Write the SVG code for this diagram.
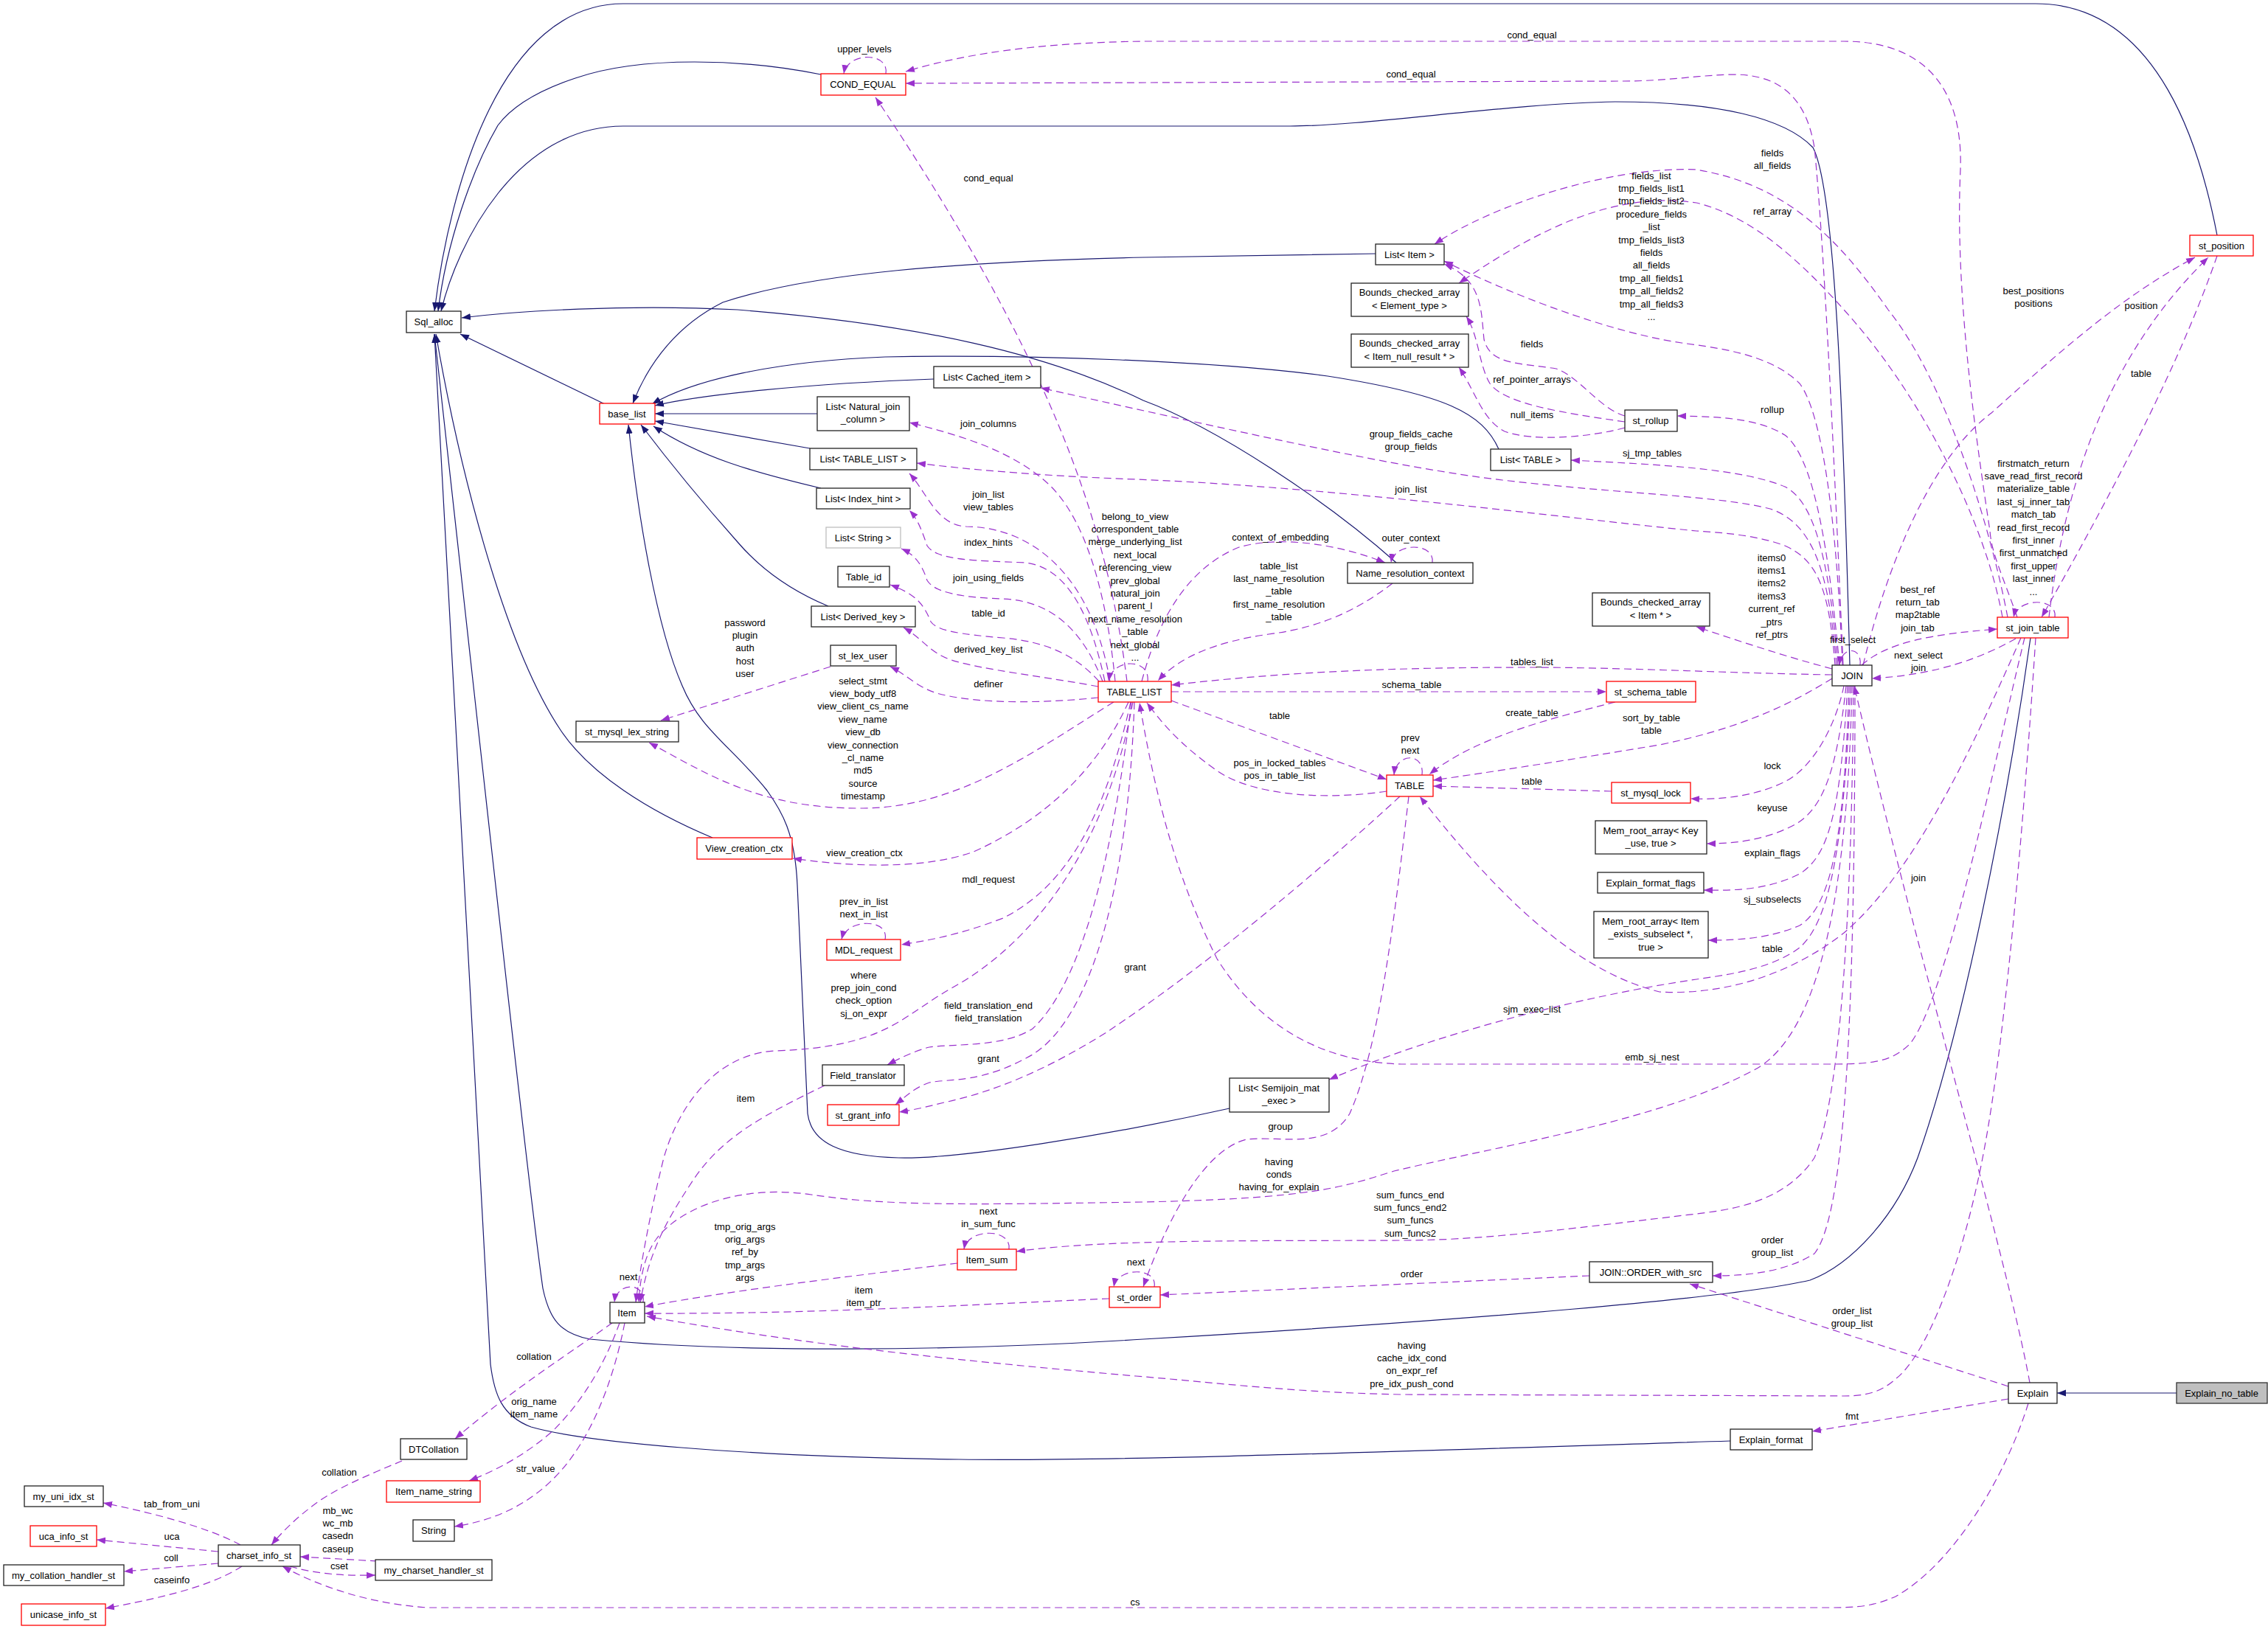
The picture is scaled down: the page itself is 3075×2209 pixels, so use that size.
<svg xmlns="http://www.w3.org/2000/svg" width="3075" height="2209" viewBox="0 0 3075 2209">
<style>
text{font-family:"Liberation Sans",Arial,Helvetica,sans-serif;font-size:13px;fill:#000}
.t,.l{text-anchor:middle}
rect{fill:#fff;stroke:#222;stroke-width:1.3}
rect.r{stroke:#f00}
rect.g{stroke:#bfbfbf}
rect.s{fill:#bfbfbf;stroke:#333}
.e path{fill:none}
path.b{stroke:#191970;stroke-width:1.2;marker-end:url(#ab)}
path.d{stroke:#9a32cd;stroke-width:1.2;stroke-dasharray:10,6;marker-end:url(#ad)}
</style>
<defs>
<marker id="ab" markerWidth="13" markerHeight="10" refX="12" refY="5" orient="auto" markerUnits="userSpaceOnUse"><path d="M0,0.5 L12,5 L0,9.5 z" fill="#191970" stroke="none"/></marker>
<marker id="ad" markerWidth="13" markerHeight="10" refX="12" refY="5" orient="auto" markerUnits="userSpaceOnUse"><path d="M0,0.5 L12,5 L0,9.5 z" fill="#9a32cd" stroke="none"/></marker>
</defs>
<rect x="0" y="0" width="3075" height="2209" style="fill:#fff;stroke:none"/>
<g id="connectors" class="e">
<path class="b" d="M3006,319 C2985,210 2930,5 2760,5 L845,5 C680,5 610,250 589,422"/>
<path class="b" d="M1113,101 C1010,80 870,75 780,106 C720,126 690,150 675,170 C640,230 605,330 594,422"/>
<path class="b" d="M2508,902 C2500,600 2490,260 2458,200 C2420,160 2330,138 2190,138 C2050,140 1850,171 1749,171 L845,171 C700,171 620,330 598,422"/>
<path class="b" d="M1893,763 C1800,680 1650,580 1550,543 C1420,480 1250,440 1000,420 C850,412 700,422 626,431"/>
<path class="b" d="M820,548 L624,453"/>
<path class="b" d="M966,1136 C880,1100 800,1050 760,990 C680,870 620,620 591,453"/>
<path class="b" d="M2346,1954 C1900,1968 1500,1982 1300,1979 C1000,1975 790,1955 720,1935 C680,1920 670,1890 665,1850 L589,453"/>
<path class="b" d="M2753,865 C2720,1100 2660,1400 2600,1570 C2570,1650 2510,1715 2454,1736 C2350,1760 2000,1790 1550,1816 C1300,1832 1000,1835 800,1816 C760,1808 745,1790 736,1747 C715,1600 650,1000 589,453"/>
<path class="b" d="M1667,1503 C1500,1540 1300,1572 1218,1570 C1140,1568 1100,1550 1095,1510 L1081,1200 C1078,1130 1060,1100 1040,1072 C990,1010 950,990 925,930 C890,850 865,700 852,576"/>
<path class="b" d="M1123,822 C1070,800 1030,770 1000,735 C960,690 910,630 869,576"/>
<path class="b" d="M1113,662 C1020,640 950,620 886,578"/>
<path class="b" d="M1098,608 L888,571"/>
<path class="b" d="M1108,561 L888,561"/>
<path class="b" d="M1266,514 C1100,520 950,535 888,550"/>
<path class="b" d="M2032,609 C2010,560 1960,535 1800,510 C1650,490 1400,480 1200,484 C1050,490 940,515 884,548"/>
<path class="b" d="M1865,344 L1550,349 C1300,355 1100,370 980,410 C920,440 880,490 858,547"/>
<path class="b" d="M2951,1889 L2789,1889"/>

<path class="d" d="M1201,100 C1206,70 1149,70 1144,100"/>
<path class="d" d="M2735,837 C2715,780 2700,750 2698,720 C2680,600 2650,400 2658,230 C2662,110 2600,56 2500,56 L1550,56 C1400,58 1300,75 1228,97"/>
<path class="d" d="M2499,902 C2490,700 2475,350 2460,200 C2450,140 2420,101 2350,101 C2300,102 2260,110 2200,110 L1228,113"/>
<path class="d" d="M1528,924 C1500,700 1420,480 1187,132"/>
<path class="d" d="M1512,924 C1500,800 1470,700 1420,655 C1370,610 1300,590 1233,573"/>
<path class="d" d="M1505,924 C1480,780 1400,715 1310,714 C1270,712 1258,670 1233,642"/>
<path class="d" d="M1498,924 C1480,840 1450,770 1390,763 C1320,760 1270,760 1257,740 C1250,720 1245,705 1233,692"/>
<path class="d" d="M1495,924 C1470,860 1430,815 1360,812 C1290,810 1265,800 1257,787 C1250,765 1240,752 1222,744"/>
<path class="d" d="M1490,924 C1460,890 1420,870 1360,865 C1300,860 1270,855 1262,843 C1252,818 1240,805 1207,793"/>
<path class="d" d="M1489,931 C1420,918 1330,908 1290,895 C1260,885 1250,865 1225,851"/>
<path class="d" d="M1489,946 C1420,953 1330,956 1270,940 C1240,930 1230,915 1207,904"/>
<path class="d" d="M1126,904 L896,977"/>
<path class="d" d="M1510,952 C1400,1020 1300,1095 1170,1096 C1030,1097 960,1050 880,1007"/>
<path class="d" d="M1530,952 C1490,1040 1420,1110 1320,1155 C1250,1180 1150,1175 1075,1164"/>
<path class="d" d="M1533,952 C1500,1100 1450,1200 1360,1245 C1300,1268 1260,1275 1222,1281"/>
<path class="d" d="M1200,1274 C1206,1245 1148,1245 1141,1274"/>
<path class="d" d="M1536,952 C1500,1150 1400,1280 1290,1340 C1220,1380 1200,1420 1050,1425 C970,1430 920,1500 900,1570 C880,1650 868,1720 862,1766"/>
<path class="d" d="M1534,952 C1510,1150 1470,1330 1400,1395 C1360,1420 1300,1415 1260,1420 C1240,1425 1220,1435 1203,1444"/>
<path class="d" d="M1538,952 C1530,1200 1480,1380 1400,1430 C1330,1470 1290,1462 1260,1468 C1240,1475 1230,1485 1214,1498"/>
<path class="d" d="M1898,1080 C1800,1170 1650,1300 1500,1400 C1420,1450 1350,1480 1280,1495 C1260,1500 1240,1505 1219,1508"/>
<path class="d" d="M1588,950 L1880,1057"/>
<path class="d" d="M1880,1073 C1800,1085 1700,1080 1650,1045 C1600,1010 1575,980 1555,953"/>
<path class="d" d="M1588,938 L2178,938"/>
<path class="d" d="M1556,924 C1560,892 1508,892 1503,924"/>
<path class="d" d="M1548,924 C1570,840 1610,770 1680,742 C1740,725 1820,740 1878,763"/>
<path class="d" d="M1888,791 C1850,820 1800,850 1720,860 C1650,870 1600,890 1570,923"/>
<path class="d" d="M1942,763 C1946,735 1890,735 1886,763"/>
<path class="d" d="M1928,1051 C1932,1020 1893,1020 1890,1051"/>
<path class="d" d="M2190,952 C2100,975 2000,1000 1938,1050"/>
<path class="d" d="M2484,920 C2420,960 2350,990 2250,1010 C2100,1035 2000,1050 1943,1058"/>
<path class="d" d="M2185,1073 L1943,1066"/>
<path class="d" d="M2740,865 C2680,1000 2600,1180 2500,1265 C2430,1320 2340,1350 2250,1345 C2150,1320 2050,1240 1925,1080"/>
<path class="d" d="M2745,865 C2700,1050 2640,1350 2590,1415 C2565,1440 2540,1443 2480,1443 L1900,1443 C1780,1440 1700,1380 1650,1300 C1600,1200 1570,1100 1545,953"/>
<path class="d" d="M2733,866 C2690,890 2630,915 2538,920"/>
<path class="d" d="M2524,902 C2560,870 2620,860 2708,853"/>
<path class="d" d="M2522,902 C2525,876 2496,876 2494,902"/>
<path class="d" d="M2752,1875 C2720,1700 2600,1300 2514,930"/>
<path class="d" d="M3006,347 C2960,480 2880,640 2768,837"/>
<path class="d" d="M2778,837 C2800,650 2860,480 2994,349"/>
<path class="d" d="M2526,902 C2560,760 2620,620 2700,560 C2800,470 2880,400 2976,349"/>
<path class="d" d="M2786,837 C2790,810 2736,810 2730,837"/>
<path class="d" d="M2498,902 C2490,700 2470,560 2440,520 C2400,480 2330,472 2280,465 C2180,450 2050,400 1958,354"/>
<path class="d" d="M2722,837 C2700,720 2640,520 2560,420 C2490,320 2420,250 2300,230 C2180,225 2020,280 1945,331"/>
<path class="d" d="M2715,837 C2690,700 2600,530 2500,420 C2420,330 2360,290 2300,275 C2200,260 2100,300 1978,384"/>
<path class="d" d="M2203,564 C2170,555 2140,510 2110,500 C2060,492 2020,495 2012,460 C2008,420 2010,380 1958,358"/>
<path class="d" d="M2203,572 C2120,560 2040,548 2020,520 C2005,495 2005,455 1988,429"/>
<path class="d" d="M2203,580 C2160,592 2080,600 2040,585 C2010,570 2000,530 1978,498"/>
<path class="d" d="M2494,902 C2480,750 2460,620 2420,590 C2380,565 2320,565 2274,564"/>
<path class="d" d="M2492,902 C2480,760 2460,680 2420,660 C2360,635 2250,630 2130,624"/>
<path class="d" d="M2490,902 C2480,780 2460,710 2400,690 C2330,672 2200,670 2037,651 C1900,635 1700,590 1411,526"/>
<path class="d" d="M2488,902 C2480,800 2465,760 2420,740 C2380,725 2330,722 2300,720 C2100,700 1800,660 1540,650 C1400,645 1300,635 1243,628"/>
<path class="d" d="M2484,907 C2420,890 2360,870 2300,850"/>
<path class="d" d="M2484,915 C2350,913 2200,905 2077,905 C1900,905 1750,910 1588,929"/>
<path class="d" d="M2500,930 C2490,980 2460,1040 2420,1060 C2380,1080 2330,1085 2292,1083"/>
<path class="d" d="M2503,930 C2490,1050 2470,1100 2430,1120 C2390,1140 2350,1144 2314,1144"/>
<path class="d" d="M2505,930 C2495,1100 2480,1160 2440,1185 C2400,1205 2360,1208 2310,1207"/>
<path class="d" d="M2507,930 C2500,1150 2480,1230 2440,1255 C2400,1272 2360,1275 2316,1275"/>
<path class="d" d="M2509,930 C2500,1150 2480,1250 2440,1285 C2400,1315 2340,1322 2300,1328 C2150,1350 1950,1400 1802,1464"/>
<path class="d" d="M2511,930 C2505,1200 2470,1400 2380,1450 C2250,1520 2050,1550 1890,1588 C1820,1610 1780,1625 1550,1630 C1300,1634 1200,1635 1100,1620 C1000,1605 920,1640 890,1680 C875,1700 868,1730 866,1766"/>
<path class="d" d="M2513,930 C2510,1300 2490,1500 2460,1570 C2420,1630 2350,1640 2300,1646 C2100,1670 2000,1682 1900,1682 C1700,1683 1500,1680 1378,1697"/>
<path class="d" d="M2515,930 C2515,1400 2500,1650 2460,1700 C2420,1725 2370,1730 2322,1730"/>
<path class="d" d="M2155,1730 L1573,1756"/>
<path class="d" d="M1565,1745 C1570,1718 1515,1718 1510,1745"/>
<path class="d" d="M1910,1080 C1890,1250 1870,1420 1830,1510 C1800,1560 1740,1540 1690,1545 C1630,1560 1580,1660 1550,1745"/>
<path class="d" d="M1504,1761 C1300,1770 1100,1782 874,1781"/>
<path class="d" d="M1298,1713 C1200,1725 1000,1748 874,1772"/>
<path class="d" d="M1368,1694 C1372,1665 1312,1665 1307,1694"/>
<path class="d" d="M872,1766 C876,1738 836,1738 833,1766"/>
<path class="d" d="M1118,1472 C1040,1510 980,1540 940,1600 C900,1660 880,1700 868,1766"/>
<path class="d" d="M830,1794 C780,1830 700,1880 617,1951"/>
<path class="d" d="M840,1794 C820,1850 790,1900 750,1940 C710,1975 670,1995 636,2008"/>
<path class="d" d="M847,1794 C830,1880 800,1950 760,1995 C720,2040 670,2062 616,2070"/>
<path class="d" d="M545,1981 C500,2000 450,2020 420,2045 C400,2060 380,2080 368,2095"/>
<path class="d" d="M326,2095 C280,2070 200,2050 140,2038"/>
<path class="d" d="M296,2104 L131,2088"/>
<path class="d" d="M296,2120 L168,2131"/>
<path class="d" d="M328,2124 C280,2155 200,2170 143,2181"/>
<path class="d" d="M512,2117 L407,2111"/>
<path class="d" d="M393,2124 C430,2135 470,2137 509,2136"/>
<path class="d" d="M2750,1903 C2720,2000 2650,2120 2570,2165 C2540,2178 2520,2180 2480,2180 L580,2180 C500,2175 430,2150 383,2124"/>
<path class="d" d="M2723,1897 L2457,1941"/>
<path class="d" d="M2723,1880 L2291,1741"/>
<path class="d" d="M2760,865 C2745,1100 2720,1400 2690,1560 C2660,1720 2610,1840 2570,1870 C2550,1888 2530,1893 2500,1893 L1900,1891 C1750,1888 1650,1875 1540,1866 C1300,1845 1100,1825 877,1785"/>
</g>
<g id="edge-labels">
<text class="l" x="1172" y="70.5">upper_levels</text>
<text class="l" x="2077" y="51.5">cond_equal</text>
<text class="l" x="1913" y="104.5">cond_equal</text>
<text class="l" x="1340" y="245.5">cond_equal</text>
<text class="l" x="2403" y="211.5"><tspan x="2403">fields</tspan><tspan x="2403" dy="17.4">all_fields</tspan></text>
<text class="l" x="2403" y="290.5">ref_array</text>
<text class="l" x="2239" y="242.5"><tspan x="2239">fields_list</tspan><tspan x="2239" dy="17.4">tmp_fields_list1</tspan><tspan x="2239" dy="17.4">tmp_fields_list2</tspan><tspan x="2239" dy="17.4">procedure_fields</tspan><tspan x="2239" dy="17.4">_list</tspan><tspan x="2239" dy="17.4">tmp_fields_list3</tspan><tspan x="2239" dy="17.4">fields</tspan><tspan x="2239" dy="17.4">all_fields</tspan><tspan x="2239" dy="17.4">tmp_all_fields1</tspan><tspan x="2239" dy="17.4">tmp_all_fields2</tspan><tspan x="2239" dy="17.4">tmp_all_fields3</tspan><tspan x="2239" dy="17.4">...</tspan></text>
<text class="l" x="2757" y="398.5"><tspan x="2757">best_positions</tspan><tspan x="2757" dy="17.4">positions</tspan></text>
<text class="l" x="2903" y="418.5">position</text>
<text class="l" x="2903" y="510.5">table</text>
<text class="l" x="2403" y="559.5">rollup</text>
<text class="l" x="2077" y="470.5">fields</text>
<text class="l" x="2077" y="518.5">ref_pointer_arrays</text>
<text class="l" x="2077" y="566.5">null_items</text>
<text class="l" x="1913" y="592.5"><tspan x="1913">group_fields_cache</tspan><tspan x="1913" dy="17.4">group_fields</tspan></text>
<text class="l" x="2240" y="618.5">sj_tmp_tables</text>
<text class="l" x="1913" y="667.5">join_list</text>
<text class="l" x="1340" y="578.5">join_columns</text>
<text class="l" x="1340" y="674.5"><tspan x="1340">join_list</tspan><tspan x="1340" dy="17.4">view_tables</tspan></text>
<text class="l" x="1340" y="739.5">index_hints</text>
<text class="l" x="1340" y="787.5">join_using_fields</text>
<text class="l" x="1340" y="835.5">table_id</text>
<text class="l" x="1340" y="884.5">derived_key_list</text>
<text class="l" x="1340" y="931.5">definer</text>
<text class="l" x="1539" y="704.5"><tspan x="1539">belong_to_view</tspan><tspan x="1539" dy="17.4">correspondent_table</tspan><tspan x="1539" dy="17.4">merge_underlying_list</tspan><tspan x="1539" dy="17.4">next_local</tspan><tspan x="1539" dy="17.4">referencing_view</tspan><tspan x="1539" dy="17.4">prev_global</tspan><tspan x="1539" dy="17.4">natural_join</tspan><tspan x="1539" dy="17.4">parent_l</tspan><tspan x="1539" dy="17.4">next_name_resolution</tspan><tspan x="1539" dy="17.4">_table</tspan><tspan x="1539" dy="17.4">next_global</tspan><tspan x="1539" dy="17.4">...</tspan></text>
<text class="l" x="1736" y="732.5">context_of_embedding</text>
<text class="l" x="1913" y="733.5">outer_context</text>
<text class="l" x="1734" y="771.5"><tspan x="1734">table_list</tspan><tspan x="1734" dy="17.4">last_name_resolution</tspan><tspan x="1734" dy="17.4">_table</tspan><tspan x="1734" dy="17.4">first_name_resolution</tspan><tspan x="1734" dy="17.4">_table</tspan></text>
<text class="l" x="2757" y="632.5"><tspan x="2757">firstmatch_return</tspan><tspan x="2757" dy="17.4">save_read_first_record</tspan><tspan x="2757" dy="17.4">materialize_table</tspan><tspan x="2757" dy="17.4">last_sj_inner_tab</tspan><tspan x="2757" dy="17.4">match_tab</tspan><tspan x="2757" dy="17.4">read_first_record</tspan><tspan x="2757" dy="17.4">first_inner</tspan><tspan x="2757" dy="17.4">first_unmatched</tspan><tspan x="2757" dy="17.4">first_upper</tspan><tspan x="2757" dy="17.4">last_inner</tspan><tspan x="2757" dy="17.4">...</tspan></text>
<text class="l" x="2402" y="760.5"><tspan x="2402">items0</tspan><tspan x="2402" dy="17.4">items1</tspan><tspan x="2402" dy="17.4">items2</tspan><tspan x="2402" dy="17.4">items3</tspan><tspan x="2402" dy="17.4">current_ref</tspan><tspan x="2402" dy="17.4">_ptrs</tspan><tspan x="2402" dy="17.4">ref_ptrs</tspan></text>
<text class="l" x="2600" y="803.5"><tspan x="2600">best_ref</tspan><tspan x="2600" dy="17.4">return_tab</tspan><tspan x="2600" dy="17.4">map2table</tspan><tspan x="2600" dy="17.4">join_tab</tspan></text>
<text class="l" x="2512" y="871.5">first_select</text>
<text class="l" x="2601" y="892.5"><tspan x="2601">next_select</tspan><tspan x="2601" dy="17.4">join</tspan></text>
<text class="l" x="2077" y="901.5">tables_list</text>
<text class="l" x="1914" y="932.5">schema_table</text>
<text class="l" x="1010" y="848.5"><tspan x="1010">password</tspan><tspan x="1010" dy="17.4">plugin</tspan><tspan x="1010" dy="17.4">auth</tspan><tspan x="1010" dy="17.4">host</tspan><tspan x="1010" dy="17.4">user</tspan></text>
<text class="l" x="1170" y="927.5"><tspan x="1170">select_stmt</tspan><tspan x="1170" dy="17.4">view_body_utf8</tspan><tspan x="1170" dy="17.4">view_client_cs_name</tspan><tspan x="1170" dy="17.4">view_name</tspan><tspan x="1170" dy="17.4">view_db</tspan><tspan x="1170" dy="17.4">view_connection</tspan><tspan x="1170" dy="17.4">_cl_name</tspan><tspan x="1170" dy="17.4">md5</tspan><tspan x="1170" dy="17.4">source</tspan><tspan x="1170" dy="17.4">timestamp</tspan></text>
<text class="l" x="1735" y="974.5">table</text>
<text class="l" x="2077" y="970.5">create_table</text>
<text class="l" x="2239" y="977.5"><tspan x="2239">sort_by_table</tspan><tspan x="2239" dy="17.4">table</tspan></text>
<text class="l" x="1912" y="1004.5"><tspan x="1912">prev</tspan><tspan x="1912" dy="17.4">next</tspan></text>
<text class="l" x="1735" y="1038.5"><tspan x="1735">pos_in_locked_tables</tspan><tspan x="1735" dy="17.4">pos_in_table_list</tspan></text>
<text class="l" x="2077" y="1063.5">table</text>
<text class="l" x="2403" y="1042.5">lock</text>
<text class="l" x="2403" y="1099.5">keyuse</text>
<text class="l" x="2601" y="1194.5">join</text>
<text class="l" x="2403" y="1160.5">explain_flags</text>
<text class="l" x="1172" y="1160.5">view_creation_ctx</text>
<text class="l" x="1340" y="1196.5">mdl_request</text>
<text class="l" x="2403" y="1223.5">sj_subselects</text>
<text class="l" x="1171" y="1226.5"><tspan x="1171">prev_in_list</tspan><tspan x="1171" dy="17.4">next_in_list</tspan></text>
<text class="l" x="2403" y="1290.5">table</text>
<text class="l" x="1539" y="1315.5">grant</text>
<text class="l" x="1171" y="1326.5"><tspan x="1171">where</tspan><tspan x="1171" dy="17.4">prep_join_cond</tspan><tspan x="1171" dy="17.4">check_option</tspan><tspan x="1171" dy="17.4">sj_on_expr</tspan></text>
<text class="l" x="1340" y="1367.5"><tspan x="1340">field_translation_end</tspan><tspan x="1340" dy="17.4">field_translation</tspan></text>
<text class="l" x="2077" y="1372.5">sjm_exec_list</text>
<text class="l" x="2240" y="1437.5">emb_sj_nest</text>
<text class="l" x="1340" y="1439.5">grant</text>
<text class="l" x="1011" y="1493.5">item</text>
<text class="l" x="1736" y="1531.5">group</text>
<text class="l" x="1734" y="1579.5"><tspan x="1734">having</tspan><tspan x="1734" dy="17.4">conds</tspan><tspan x="1734" dy="17.4">having_for_explain</tspan></text>
<text class="l" x="1912" y="1624.5"><tspan x="1912">sum_funcs_end</tspan><tspan x="1912" dy="17.4">sum_funcs_end2</tspan><tspan x="1912" dy="17.4">sum_funcs</tspan><tspan x="1912" dy="17.4">sum_funcs2</tspan></text>
<text class="l" x="1340" y="1646.5"><tspan x="1340">next</tspan><tspan x="1340" dy="17.4">in_sum_func</tspan></text>
<text class="l" x="1010" y="1667.5"><tspan x="1010">tmp_orig_args</tspan><tspan x="1010" dy="17.4">orig_args</tspan><tspan x="1010" dy="17.4">ref_by</tspan><tspan x="1010" dy="17.4">tmp_args</tspan><tspan x="1010" dy="17.4">args</tspan></text>
<text class="l" x="2403" y="1685.5"><tspan x="2403">order</tspan><tspan x="2403" dy="17.4">group_list</tspan></text>
<text class="l" x="1540" y="1715.5">next</text>
<text class="l" x="1914" y="1731.5">order</text>
<text class="l" x="852" y="1735.5">next</text>
<text class="l" x="1171" y="1753.5"><tspan x="1171">item</tspan><tspan x="1171" dy="17.4">item_ptr</tspan></text>
<text class="l" x="2511" y="1781.5"><tspan x="2511">order_list</tspan><tspan x="2511" dy="17.4">group_list</tspan></text>
<text class="l" x="1914" y="1828.5"><tspan x="1914">having</tspan><tspan x="1914" dy="17.4">cache_idx_cond</tspan><tspan x="1914" dy="17.4">on_expr_ref</tspan><tspan x="1914" dy="17.4">pre_idx_push_cond</tspan></text>
<text class="l" x="724" y="1843.5">collation</text>
<text class="l" x="724" y="1904.5"><tspan x="724">orig_name</tspan><tspan x="724" dy="17.4">item_name</tspan></text>
<text class="l" x="2511" y="1924.5">fmt</text>
<text class="l" x="726" y="1995.5">str_value</text>
<text class="l" x="460" y="2000.5">collation</text>
<text class="l" x="233" y="2043.5">tab_from_uni</text>
<text class="l" x="458" y="2052.5"><tspan x="458">mb_wc</tspan><tspan x="458" dy="17.4">wc_mb</tspan><tspan x="458" dy="17.4">casedn</tspan><tspan x="458" dy="17.4">caseup</tspan></text>
<text class="l" x="233" y="2087.5">uca</text>
<text class="l" x="232" y="2116.5">coll</text>
<text class="l" x="460" y="2127.5">cset</text>
<text class="l" x="233" y="2146.5">caseinfo</text>
<text class="l" x="1539" y="2176.5">cs</text>
</g>
<g id="node-Sql_alloc"><rect x="551" y="422" width="74" height="29"/><text class="t" x="588" y="441">Sql_alloc</text></g>
<g id="node-COND_EQUAL"><rect class="r" x="1113" y="100" width="115" height="29"/><text class="t" x="1170" y="119">COND_EQUAL</text></g>
<g id="node-base_list"><rect class="r" x="813" y="547" width="75" height="28"/><text class="t" x="850" y="565.5">base_list</text></g>
<g id="node-List_Cached_item"><rect x="1266" y="497" width="145" height="29"/><text class="t" x="1338" y="516">List&lt; Cached_item &gt;</text></g>
<g id="node-List_Natural_join_column"><rect x="1108" y="538" width="125" height="46"/><text class="t" x="1170" y="555.5"><tspan x="1170">List&lt; Natural_join</tspan><tspan x="1170" dy="17">_column &gt;</tspan></text></g>
<g id="node-List_TABLE_LIST"><rect x="1098" y="608" width="145" height="29"/><text class="t" x="1170" y="627">List&lt; TABLE_LIST &gt;</text></g>
<g id="node-List_Index_hint"><rect x="1107" y="662" width="127" height="28"/><text class="t" x="1170" y="680.5">List&lt; Index_hint &gt;</text></g>
<g id="node-List_String"><rect class="g" x="1120" y="715" width="101" height="28"/><text class="t" x="1170" y="733.5">List&lt; String &gt;</text></g>
<g id="node-Table_id"><rect x="1136" y="768" width="70" height="28"/><text class="t" x="1171" y="786.5">Table_id</text></g>
<g id="node-List_Derived_key"><rect x="1100" y="822" width="141" height="28"/><text class="t" x="1170" y="840.5">List&lt; Derived_key &gt;</text></g>
<g id="node-st_lex_user"><rect x="1126" y="875" width="89" height="28"/><text class="t" x="1170" y="893.5">st_lex_user</text></g>
<g id="node-st_mysql_lex_string"><rect x="781" y="978" width="139" height="28"/><text class="t" x="850" y="996.5">st_mysql_lex_string</text></g>
<g id="node-View_creation_ctx"><rect class="r" x="945" y="1136" width="129" height="29"/><text class="t" x="1009" y="1155">View_creation_ctx</text></g>
<g id="node-MDL_request"><rect class="r" x="1121" y="1274" width="100" height="28"/><text class="t" x="1171" y="1292.5">MDL_request</text></g>
<g id="node-Field_translator"><rect x="1115" y="1444" width="111" height="28"/><text class="t" x="1170" y="1462.5">Field_translator</text></g>
<g id="node-st_grant_info"><rect class="r" x="1122" y="1498" width="97" height="28"/><text class="t" x="1170" y="1516.5">st_grant_info</text></g>
<g id="node-Item"><rect x="827" y="1766" width="47" height="28"/><text class="t" x="850" y="1784.5">Item</text></g>
<g id="node-Item_sum"><rect class="r" x="1298" y="1694" width="80" height="28"/><text class="t" x="1338" y="1712.5">Item_sum</text></g>
<g id="node-st_order"><rect class="r" x="1504" y="1745" width="69" height="28"/><text class="t" x="1538" y="1763.5">st_order</text></g>
<g id="node-TABLE_LIST"><rect class="r" x="1489" y="924" width="99" height="28"/><text class="t" x="1538" y="942.5">TABLE_LIST</text></g>
<g id="node-Name_resolution_context"><rect x="1827" y="763" width="170" height="28"/><text class="t" x="1912" y="781.5">Name_resolution_context</text></g>
<g id="node-TABLE"><rect class="r" x="1880" y="1051" width="63" height="29"/><text class="t" x="1911" y="1070">TABLE</text></g>
<g id="node-List_Item"><rect x="1865" y="331" width="93" height="28"/><text class="t" x="1911" y="349.5">List&lt; Item &gt;</text></g>
<g id="node-Bounds_checked_array_Element_type"><rect x="1832" y="384" width="159" height="45"/><text class="t" x="1911" y="400.5"><tspan x="1911">Bounds_checked_array</tspan><tspan x="1911" dy="18">&lt; Element_type &gt;</tspan></text></g>
<g id="node-Bounds_checked_array_Item_null_result"><rect x="1832" y="453" width="159" height="45"/><text class="t" x="1911" y="469.5"><tspan x="1911">Bounds_checked_array</tspan><tspan x="1911" dy="18">&lt; Item_null_result * &gt;</tspan></text></g>
<g id="node-List_TABLE"><rect x="2021" y="609" width="109" height="29"/><text class="t" x="2075" y="628">List&lt; TABLE &gt;</text></g>
<g id="node-st_rollup"><rect x="2203" y="556" width="71" height="29"/><text class="t" x="2238" y="575">st_rollup</text></g>
<g id="node-Bounds_checked_array_Item"><rect x="2159" y="804" width="159" height="45"/><text class="t" x="2238" y="820.5"><tspan x="2238">Bounds_checked_array</tspan><tspan x="2238" dy="18">&lt; Item * &gt;</tspan></text></g>
<g id="node-st_schema_table"><rect class="r" x="2178" y="924" width="121" height="28"/><text class="t" x="2238" y="942.5">st_schema_table</text></g>
<g id="node-st_mysql_lock"><rect class="r" x="2185" y="1061" width="107" height="28"/><text class="t" x="2238" y="1079.5">st_mysql_lock</text></g>
<g id="node-Mem_root_array_Key_use"><rect x="2163" y="1113" width="151" height="45"/><text class="t" x="2238" y="1130.5"><tspan x="2238">Mem_root_array&lt; Key</tspan><tspan x="2238" dy="17">_use, true &gt;</tspan></text></g>
<g id="node-Explain_format_flags"><rect x="2166" y="1183" width="144" height="28"/><text class="t" x="2238" y="1201.5">Explain_format_flags</text></g>
<g id="node-Mem_root_array_Item_exists_subselect"><rect x="2161" y="1236" width="155" height="63"/><text class="t" x="2238" y="1253.5"><tspan x="2238">Mem_root_array&lt; Item</tspan><tspan x="2238" dy="17.5">_exists_subselect *,</tspan><tspan x="2238" dy="17.5">true &gt;</tspan></text></g>
<g id="node-List_Semijoin_mat_exec"><rect x="1667" y="1462" width="135" height="46"/><text class="t" x="1734" y="1479.5"><tspan x="1734">List&lt; Semijoin_mat</tspan><tspan x="1734" dy="17">_exec &gt;</tspan></text></g>
<g id="node-JOIN"><rect x="2484" y="902" width="54" height="28"/><text class="t" x="2511" y="920.5">JOIN</text></g>
<g id="node-st_join_table"><rect class="r" x="2708" y="837" width="96" height="28"/><text class="t" x="2756" y="855.5">st_join_table</text></g>
<g id="node-st_position"><rect class="r" x="2969" y="319" width="86" height="28"/><text class="t" x="3012" y="337.5">st_position</text></g>
<g id="node-JOIN_ORDER_with_src"><rect x="2155" y="1711" width="167" height="28"/><text class="t" x="2238" y="1729.5">JOIN::ORDER_with_src</text></g>
<g id="node-Explain"><rect x="2723" y="1875" width="66" height="28"/><text class="t" x="2756" y="1893.5">Explain</text></g>
<g id="node-Explain_no_table"><rect class="s" x="2951" y="1875" width="123" height="28"/><text class="t" x="3012" y="1893.5">Explain_no_table</text></g>
<g id="node-Explain_format"><rect x="2346" y="1938" width="111" height="28"/><text class="t" x="2401" y="1956.5">Explain_format</text></g>
<g id="node-DTCollation"><rect x="543" y="1951" width="90" height="28"/><text class="t" x="588" y="1969.5">DTCollation</text></g>
<g id="node-Item_name_string"><rect class="r" x="524" y="2008" width="127" height="29"/><text class="t" x="588" y="2027">Item_name_string</text></g>
<g id="node-String"><rect x="560" y="2061" width="56" height="29"/><text class="t" x="588" y="2080">String</text></g>
<g id="node-my_uni_idx_st"><rect x="33" y="2015" width="107" height="28"/><text class="t" x="86" y="2033.5">my_uni_idx_st</text></g>
<g id="node-uca_info_st"><rect class="r" x="41" y="2069" width="90" height="28"/><text class="t" x="86" y="2087.5">uca_info_st</text></g>
<g id="node-charset_info_st"><rect x="296" y="2095" width="111" height="29"/><text class="t" x="351" y="2114">charset_info_st</text></g>
<g id="node-my_collation_handler_st"><rect x="5" y="2122" width="163" height="28"/><text class="t" x="86" y="2140.5">my_collation_handler_st</text></g>
<g id="node-my_charset_handler_st"><rect x="509" y="2115" width="158" height="28"/><text class="t" x="588" y="2133.5">my_charset_handler_st</text></g>
<g id="node-unicase_info_st"><rect class="r" x="29" y="2175" width="114" height="29"/><text class="t" x="86" y="2194">unicase_info_st</text></g>
</svg>
